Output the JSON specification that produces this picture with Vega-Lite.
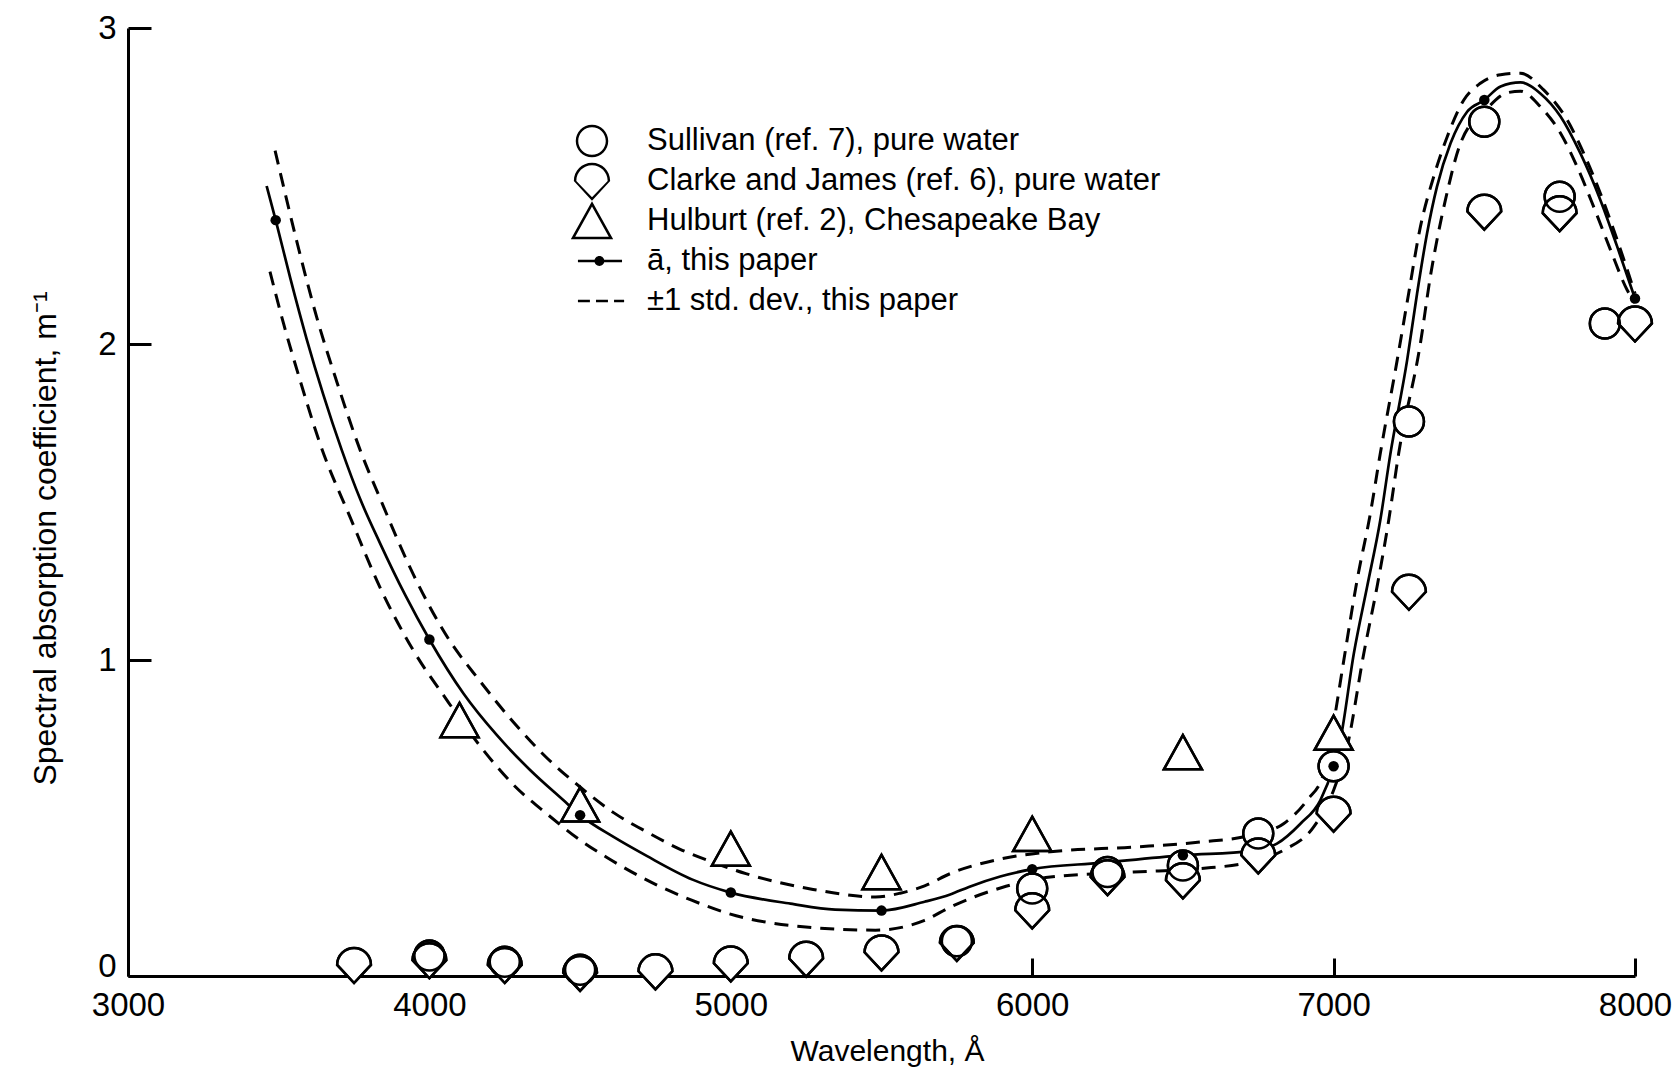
{
  "$schema": "https://vega.github.io/schema/vega-lite/v6.json",
  "width": 1507,
  "height": 948,
  "autosize": {"type": "none"},
  "padding": {"left": 128, "top": 28, "right": 37, "bottom": 91},
  "background": "white",
  "config": {
    "view": {"stroke": null},
    "axis": {"grid": false, "labelColor": "black", "titleColor": "black", "domainColor": "black", "tickColor": "black"}
  },
  "resolve": {"scale": {"shape": "independent"}, "legend": {"shape": "independent"}},
  "datasets": {
    "curves": [
      {"curve": "mean", "wl": 3460, "a": 2.5},
      {"curve": "mean", "wl": 3490, "a": 2.392},
      {"curve": "mean", "wl": 3538, "a": 2.21},
      {"curve": "mean", "wl": 3593, "a": 2.015},
      {"curve": "mean", "wl": 3648, "a": 1.84},
      {"curve": "mean", "wl": 3709, "a": 1.665},
      {"curve": "mean", "wl": 3770, "a": 1.51},
      {"curve": "mean", "wl": 3836, "a": 1.37},
      {"curve": "mean", "wl": 3920, "a": 1.205},
      {"curve": "mean", "wl": 4000, "a": 1.065},
      {"curve": "mean", "wl": 4113, "a": 0.894},
      {"curve": "mean", "wl": 4224, "a": 0.762},
      {"curve": "mean", "wl": 4334, "a": 0.652},
      {"curve": "mean", "wl": 4445, "a": 0.556},
      {"curve": "mean", "wl": 4500, "a": 0.509},
      {"curve": "mean", "wl": 4611, "a": 0.44},
      {"curve": "mean", "wl": 4721, "a": 0.38},
      {"curve": "mean", "wl": 4873, "a": 0.305},
      {"curve": "mean", "wl": 5000, "a": 0.264},
      {"curve": "mean", "wl": 5198, "a": 0.229},
      {"curve": "mean", "wl": 5346, "a": 0.21},
      {"curve": "mean", "wl": 5500, "a": 0.207},
      {"curve": "mean", "wl": 5643, "a": 0.235},
      {"curve": "mean", "wl": 5728, "a": 0.258},
      {"curve": "mean", "wl": 5790, "a": 0.282},
      {"curve": "mean", "wl": 5894, "a": 0.315},
      {"curve": "mean", "wl": 6000, "a": 0.338},
      {"curve": "mean", "wl": 6226, "a": 0.358},
      {"curve": "mean", "wl": 6500, "a": 0.382},
      {"curve": "mean", "wl": 6724, "a": 0.395},
      {"curve": "mean", "wl": 6812, "a": 0.419},
      {"curve": "mean", "wl": 6890, "a": 0.482},
      {"curve": "mean", "wl": 6956, "a": 0.556},
      {"curve": "mean", "wl": 7000, "a": 0.664},
      {"curve": "mean", "wl": 7023, "a": 0.75},
      {"curve": "mean", "wl": 7067, "a": 1.02},
      {"curve": "mean", "wl": 7111, "a": 1.231},
      {"curve": "mean", "wl": 7155, "a": 1.443},
      {"curve": "mean", "wl": 7188, "a": 1.65},
      {"curve": "mean", "wl": 7244, "a": 1.949},
      {"curve": "mean", "wl": 7277, "a": 2.16},
      {"curve": "mean", "wl": 7310, "a": 2.35},
      {"curve": "mean", "wl": 7343, "a": 2.498},
      {"curve": "mean", "wl": 7388, "a": 2.635},
      {"curve": "mean", "wl": 7443, "a": 2.735},
      {"curve": "mean", "wl": 7500, "a": 2.772},
      {"curve": "mean", "wl": 7554, "a": 2.815},
      {"curve": "mean", "wl": 7620, "a": 2.828},
      {"curve": "mean", "wl": 7686, "a": 2.793},
      {"curve": "mean", "wl": 7753, "a": 2.72},
      {"curve": "mean", "wl": 7819, "a": 2.603},
      {"curve": "mean", "wl": 7885, "a": 2.456},
      {"curve": "mean", "wl": 7941, "a": 2.308},
      {"curve": "mean", "wl": 8000, "a": 2.144},

      {"curve": "upper", "wl": 3488, "a": 2.612},
      {"curve": "upper", "wl": 3560, "a": 2.325},
      {"curve": "upper", "wl": 3626, "a": 2.085},
      {"curve": "upper", "wl": 3693, "a": 1.88},
      {"curve": "upper", "wl": 3770, "a": 1.665},
      {"curve": "upper", "wl": 3836, "a": 1.512},
      {"curve": "upper", "wl": 3947, "a": 1.27},
      {"curve": "upper", "wl": 4058, "a": 1.075},
      {"curve": "upper", "wl": 4168, "a": 0.933},
      {"curve": "upper", "wl": 4279, "a": 0.803},
      {"curve": "upper", "wl": 4390, "a": 0.69},
      {"curve": "upper", "wl": 4500, "a": 0.598},
      {"curve": "upper", "wl": 4611, "a": 0.517},
      {"curve": "upper", "wl": 4721, "a": 0.456},
      {"curve": "upper", "wl": 4832, "a": 0.401},
      {"curve": "upper", "wl": 4940, "a": 0.36},
      {"curve": "upper", "wl": 5050, "a": 0.324},
      {"curve": "upper", "wl": 5273, "a": 0.274},
      {"curve": "upper", "wl": 5480, "a": 0.25},
      {"curve": "upper", "wl": 5562, "a": 0.262},
      {"curve": "upper", "wl": 5643, "a": 0.285},
      {"curve": "upper", "wl": 5728, "a": 0.324},
      {"curve": "upper", "wl": 5894, "a": 0.37},
      {"curve": "upper", "wl": 6060, "a": 0.393},
      {"curve": "upper", "wl": 6336, "a": 0.408},
      {"curve": "upper", "wl": 6558, "a": 0.424},
      {"curve": "upper", "wl": 6724, "a": 0.445},
      {"curve": "upper", "wl": 6834, "a": 0.482},
      {"curve": "upper", "wl": 6912, "a": 0.556},
      {"curve": "upper", "wl": 6967, "a": 0.641},
      {"curve": "upper", "wl": 7000, "a": 0.8},
      {"curve": "upper", "wl": 7034, "a": 1.0},
      {"curve": "upper", "wl": 7078, "a": 1.253},
      {"curve": "upper", "wl": 7122, "a": 1.464},
      {"curve": "upper", "wl": 7155, "a": 1.654},
      {"curve": "upper", "wl": 7211, "a": 1.949},
      {"curve": "upper", "wl": 7249, "a": 2.16},
      {"curve": "upper", "wl": 7288, "a": 2.371},
      {"curve": "upper", "wl": 7332, "a": 2.529},
      {"curve": "upper", "wl": 7377, "a": 2.656},
      {"curve": "upper", "wl": 7432, "a": 2.772},
      {"curve": "upper", "wl": 7487, "a": 2.825},
      {"curve": "upper", "wl": 7554, "a": 2.852},
      {"curve": "upper", "wl": 7620, "a": 2.857},
      {"curve": "upper", "wl": 7697, "a": 2.804},
      {"curve": "upper", "wl": 7775, "a": 2.709},
      {"curve": "upper", "wl": 7830, "a": 2.603},
      {"curve": "upper", "wl": 7885, "a": 2.477},
      {"curve": "upper", "wl": 7941, "a": 2.329},
      {"curve": "upper", "wl": 8000, "a": 2.16},

      {"curve": "lower", "wl": 3471, "a": 2.229},
      {"curve": "lower", "wl": 3516, "a": 2.065},
      {"curve": "lower", "wl": 3571, "a": 1.885},
      {"curve": "lower", "wl": 3637, "a": 1.685},
      {"curve": "lower", "wl": 3740, "a": 1.445},
      {"curve": "lower", "wl": 3836, "a": 1.23},
      {"curve": "lower", "wl": 3947, "a": 1.03},
      {"curve": "lower", "wl": 4058, "a": 0.873},
      {"curve": "lower", "wl": 4168, "a": 0.728},
      {"curve": "lower", "wl": 4279, "a": 0.605},
      {"curve": "lower", "wl": 4390, "a": 0.513},
      {"curve": "lower", "wl": 4500, "a": 0.43},
      {"curve": "lower", "wl": 4589, "a": 0.375},
      {"curve": "lower", "wl": 4750, "a": 0.29},
      {"curve": "lower", "wl": 4870, "a": 0.24},
      {"curve": "lower", "wl": 4991, "a": 0.198},
      {"curve": "lower", "wl": 5198, "a": 0.16},
      {"curve": "lower", "wl": 5480, "a": 0.145},
      {"curve": "lower", "wl": 5643, "a": 0.176},
      {"curve": "lower", "wl": 5728, "a": 0.218},
      {"curve": "lower", "wl": 5900, "a": 0.28},
      {"curve": "lower", "wl": 6060, "a": 0.313},
      {"curve": "lower", "wl": 6336, "a": 0.329},
      {"curve": "lower", "wl": 6558, "a": 0.34},
      {"curve": "lower", "wl": 6724, "a": 0.361},
      {"curve": "lower", "wl": 6834, "a": 0.398},
      {"curve": "lower", "wl": 6934, "a": 0.472},
      {"curve": "lower", "wl": 7000, "a": 0.588},
      {"curve": "lower", "wl": 7045, "a": 0.725},
      {"curve": "lower", "wl": 7100, "a": 1.02},
      {"curve": "lower", "wl": 7144, "a": 1.231},
      {"curve": "lower", "wl": 7183, "a": 1.443},
      {"curve": "lower", "wl": 7216, "a": 1.654},
      {"curve": "lower", "wl": 7288, "a": 2.002},
      {"curve": "lower", "wl": 7321, "a": 2.213},
      {"curve": "lower", "wl": 7371, "a": 2.456},
      {"curve": "lower", "wl": 7421, "a": 2.635},
      {"curve": "lower", "wl": 7509, "a": 2.745},
      {"curve": "lower", "wl": 7576, "a": 2.795},
      {"curve": "lower", "wl": 7620, "a": 2.8},
      {"curve": "lower", "wl": 7686, "a": 2.751},
      {"curve": "lower", "wl": 7753, "a": 2.667},
      {"curve": "lower", "wl": 7808, "a": 2.561},
      {"curve": "lower", "wl": 7863, "a": 2.434},
      {"curve": "lower", "wl": 7919, "a": 2.297},
      {"curve": "lower", "wl": 7974, "a": 2.171},
      {"curve": "lower", "wl": 8000, "a": 2.13}
    ],
    "meanDots": [
      {"wl": 3490, "a": 2.392},
      {"wl": 4000, "a": 1.065},
      {"wl": 4500, "a": 0.509},
      {"wl": 5000, "a": 0.264},
      {"wl": 5500, "a": 0.207},
      {"wl": 6000, "a": 0.338},
      {"wl": 6500, "a": 0.382},
      {"wl": 7000, "a": 0.664},
      {"wl": 7500, "a": 2.772},
      {"wl": 8000, "a": 2.144}
    ],
    "measured": [
      {"series": "Sullivan (ref. 7), pure water", "wl": 4000, "a": 0.065},
      {"series": "Sullivan (ref. 7), pure water", "wl": 4250, "a": 0.045},
      {"series": "Sullivan (ref. 7), pure water", "wl": 4500, "a": 0.02},
      {"series": "Sullivan (ref. 7), pure water", "wl": 5750, "a": 0.11},
      {"series": "Sullivan (ref. 7), pure water", "wl": 6000, "a": 0.277},
      {"series": "Sullivan (ref. 7), pure water", "wl": 6250, "a": 0.329},
      {"series": "Sullivan (ref. 7), pure water", "wl": 6500, "a": 0.35},
      {"series": "Sullivan (ref. 7), pure water", "wl": 6750, "a": 0.451},
      {"series": "Sullivan (ref. 7), pure water", "wl": 7000, "a": 0.664},
      {"series": "Sullivan (ref. 7), pure water", "wl": 7250, "a": 1.755},
      {"series": "Sullivan (ref. 7), pure water", "wl": 7500, "a": 2.703},
      {"series": "Sullivan (ref. 7), pure water", "wl": 7750, "a": 2.466},
      {"series": "Sullivan (ref. 7), pure water", "wl": 7900, "a": 2.065},

      {"series": "Clarke and James (ref. 6), pure water", "wl": 3750, "a": 0.035},
      {"series": "Clarke and James (ref. 6), pure water", "wl": 4000, "a": 0.05},
      {"series": "Clarke and James (ref. 6), pure water", "wl": 4250, "a": 0.035},
      {"series": "Clarke and James (ref. 6), pure water", "wl": 4500, "a": 0.01},
      {"series": "Clarke and James (ref. 6), pure water", "wl": 4750, "a": 0.015},
      {"series": "Clarke and James (ref. 6), pure water", "wl": 5000, "a": 0.04},
      {"series": "Clarke and James (ref. 6), pure water", "wl": 5250, "a": 0.055},
      {"series": "Clarke and James (ref. 6), pure water", "wl": 5500, "a": 0.075},
      {"series": "Clarke and James (ref. 6), pure water", "wl": 5750, "a": 0.105},
      {"series": "Clarke and James (ref. 6), pure water", "wl": 6000, "a": 0.208},
      {"series": "Clarke and James (ref. 6), pure water", "wl": 6250, "a": 0.313},
      {"series": "Clarke and James (ref. 6), pure water", "wl": 6500, "a": 0.303},
      {"series": "Clarke and James (ref. 6), pure water", "wl": 6750, "a": 0.382},
      {"series": "Clarke and James (ref. 6), pure water", "wl": 7000, "a": 0.514},
      {"series": "Clarke and James (ref. 6), pure water", "wl": 7250, "a": 1.216},
      {"series": "Clarke and James (ref. 6), pure water", "wl": 7500, "a": 2.419},
      {"series": "Clarke and James (ref. 6), pure water", "wl": 7750, "a": 2.414},
      {"series": "Clarke and James (ref. 6), pure water", "wl": 8000, "a": 2.065},

      {"series": "Hulburt (ref. 2), Chesapeake Bay", "wl": 4100, "a": 0.81},
      {"series": "Hulburt (ref. 2), Chesapeake Bay", "wl": 4500, "a": 0.543},
      {"series": "Hulburt (ref. 2), Chesapeake Bay", "wl": 5000, "a": 0.403},
      {"series": "Hulburt (ref. 2), Chesapeake Bay", "wl": 5500, "a": 0.329},
      {"series": "Hulburt (ref. 2), Chesapeake Bay", "wl": 6000, "a": 0.45},
      {"series": "Hulburt (ref. 2), Chesapeake Bay", "wl": 6500, "a": 0.708},
      {"series": "Hulburt (ref. 2), Chesapeake Bay", "wl": 7000, "a": 0.77}
    ]
  },
  "encoding": {
    "x": {
      "field": "wl",
      "type": "quantitative",
      "scale": {"domain": [3000, 8000], "nice": false, "zero": false},
      "axis": {
        "values": [3000, 4000, 5000, 6000, 7000, 8000],
        "format": "d",
        "title": "Wavelength, Å",
        "titleFont": "Liberation Sans",
        "titleFontSize": 30,
        "titleFontWeight": "normal",
        "titleX": 759,
        "titleY": 84,
        "titleAlign": "center",
        "titleBaseline": "alphabetic",
        "domainWidth": 3,
        "tickWidth": 3,
        "tickSize": -18,
        "labelFont": "Liberation Sans Narrow, Liberation Sans",
        "labelFontSize": 33,
        "labelBaseline": "alphabetic",
        "labelPadding": 57,
        "labelFlush": false,
        "labelOverlap": false
      }
    },
    "y": {
      "field": "a",
      "type": "quantitative",
      "scale": {"domain": [0, 3], "nice": false},
      "axis": {
        "values": [0, 1, 2, 3],
        "format": "d",
        "title": "Spectral absorption coefficient, m⁻¹",
        "titleFont": "Liberation Sans",
        "titleFontSize": 32,
        "titleFontWeight": "normal",
        "titleX": -73,
        "titleY": 510,
        "titleAlign": "center",
        "titleBaseline": "alphabetic",
        "titleAngle": -90,
        "domainWidth": 3,
        "tickWidth": 3,
        "tickSize": -23,
        "labelFont": "Liberation Sans Narrow, Liberation Sans",
        "labelFontSize": 33,
        "labelPadding": 35,
        "labelBaseline": {"condition": {"test": "datum.value === 0", "value": "alphabetic"}, "value": "middle"},
        "labelFlush": false,
        "labelOverlap": false
      }
    }
  },
  "layer": [
    {
      "data": {"name": "curves"},
      "transform": [{"filter": "datum.curve !== 'mean'"}],
      "mark": {"type": "line", "color": "black", "strokeWidth": 3, "strokeDash": [14, 9], "interpolate": "monotone"},
      "encoding": {"detail": {"field": "curve"}}
    },
    {
      "data": {"name": "curves"},
      "transform": [{"filter": "datum.curve === 'mean'"}],
      "mark": {"type": "line", "color": "black", "strokeWidth": 2.7, "interpolate": "monotone"},
      "encoding": {}
    },
    {
      "data": {"name": "measured"},
      "mark": {"type": "point", "filled": false, "fill": "white", "stroke": "black", "strokeWidth": 2.5, "opacity": 1, "size": 1444},
      "encoding": {
        "shape": {
          "field": "series",
          "type": "nominal",
          "scale": {
            "domain": ["Sullivan (ref. 7), pure water", "Clarke and James (ref. 6), pure water", "Hulburt (ref. 2), Chesapeake Bay"],
            "range": [
              "M-0.79,0 A0.79,0.79 0 1,1 0.79,0 A0.79,0.79 0 1,1 -0.79,0 Z",
              "M-0.89,0 A0.89,0.89 0 0,1 0.89,0 L0,0.95 Z",
              "M0,-0.9 L1,0.9 L-1,0.9 Z"
            ]
          },
          "legend": null
        }
      }
    },
    {
      "data": {"name": "measured"},
      "mark": {"type": "point", "filled": false, "stroke": "black", "strokeWidth": 2.5, "opacity": 1, "size": 1444},
      "encoding": {
        "shape": {
          "field": "series",
          "type": "nominal",
          "scale": {
            "domain": ["Sullivan (ref. 7), pure water", "Clarke and James (ref. 6), pure water", "Hulburt (ref. 2), Chesapeake Bay"],
            "range": [
              "M-0.79,0 A0.79,0.79 0 1,1 0.79,0 A0.79,0.79 0 1,1 -0.79,0 Z",
              "M-0.89,0 A0.89,0.89 0 0,1 0.89,0 L0,0.95 Z",
              "M0,-0.9 L1,0.9 L-1,0.9 Z"
            ]
          },
          "legend": null
        }
      }
    },
    {
      "data": {"name": "meanDots"},
      "mark": {"type": "circle", "color": "black", "opacity": 1, "size": 110},
      "encoding": {}
    },
    {
      "data": {"name": "measured"},
      "mark": {"type": "point", "filled": true, "color": "black", "opacity": 0, "size": 1444},
      "encoding": {
        "shape": {
          "field": "series",
          "type": "nominal",
          "title": " ",
          "scale": {
            "domain": [
              "Sullivan (ref. 7), pure water",
              "Clarke and James (ref. 6), pure water",
              "Hulburt (ref. 2), Chesapeake Bay",
              "ā, this paper",
              "±1 std. dev., this paper"
            ],
            "range": [
              "M-0.855,0 A0.855,0.855 0 1,1 0.855,0 A0.855,0.855 0 1,1 -0.855,0 Z M-0.725,0 A0.725,0.725 0 1,0 0.725,0 A0.725,0.725 0 1,0 -0.725,0 Z",
              "M-0.955,0 A0.955,0.955 0 0,1 0.955,0 L0,1.04 Z M0.825,0 A0.825,0.825 0 0,0 -0.825,0 L0,0.86 Z",
              "M0,-1.034 L1.115,0.965 L-1.115,0.965 Z M0,-0.766 L-0.885,0.835 L0.885,0.835 Z",
              "M-0.74,-0.065 L1.58,-0.065 L1.58,0.065 L-0.74,0.065 Z M0.65,0 A0.26,0.26 0 1,1 0.13,0 A0.26,0.26 0 1,1 0.65,0 Z",
              "M-0.74,-0.07 L-0.11,-0.07 L-0.11,0.07 L-0.74,0.07 Z M0.21,-0.07 L0.84,-0.07 L0.84,0.07 L0.21,0.07 Z M1.16,-0.07 L1.69,-0.07 L1.69,0.07 L1.16,0.07 Z"
            ]
          },
          "legend": {
            "orient": "none",
            "legendX": 445,
            "legendY": 93,
            "titleFontSize": 1,
            "titlePadding": 0,
            "gridAlign": "all",
            "symbolSize": 1444,
            "symbolOpacity": 1,
            "symbolFillColor": "black",
            "symbolStrokeColor": "transparent",
            "symbolStrokeWidth": 0,
            "labelFont": "Liberation Sans",
            "labelFontSize": 31,
            "labelColor": "black",
            "labelOffset": 36,
            "labelLimit": 800,
            "rowPadding": 0
          }
        }
      }
    }
  ]
}
